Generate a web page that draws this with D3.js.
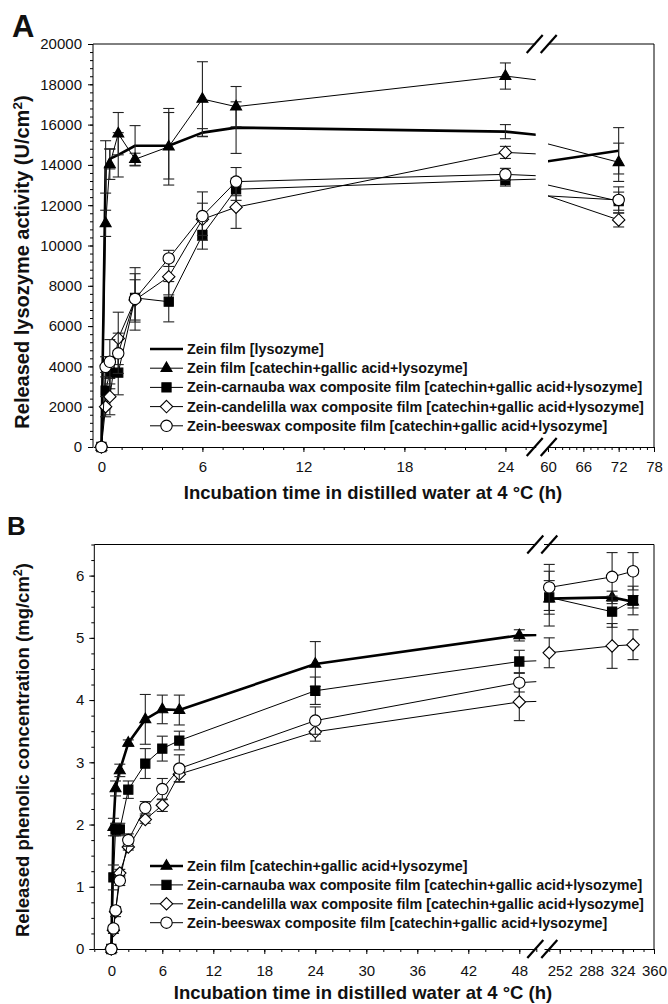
<!DOCTYPE html>
<html><head><meta charset="utf-8">
<script src="https://cdn.jsdelivr.net/npm/d3@7"></script>
<style>
body{margin:0;background:#fff;}
svg text{font-family:"Liberation Sans",Arial,Helvetica,sans-serif;fill:#111;}
</style></head>
<body><svg id="chart" width="668" height="1004"></svg>
<script>
// ---------------- DATA: panel A (lysozyme activity, U/cm2) ----------------
const namesA = [
  "Zein film [lysozyme]",
  "Zein film [catechin+gallic acid+lysozyme]",
  "Zein-carnauba wax composite film [catechin+gallic acid+lysozyme]",
  "Zein-candelilla wax composite film [catechin+gallic acid+lysozyme]",
  "Zein-beeswax composite film [catechin+gallic acid+lysozyme]"
];
const timesA = [0, 0.25, 0.5, 1, 2, 4, 6, 8, 24, 48, 72];
const zeinLysA      = [0, 13900, 14300, 14500, 14950, 14950, 15600, 15850, 15650, 13660, 14700];
const zeinLysA_err  = [0, 1300, 500, 1100, 1000, 1650, 200, 1280, 350, 0, 1150];
const zeinCglA      = [0, 11100, 14030, 15550, 14280, 14900, 17270, 16890, 18410, 15950, 14130];
const zeinCglA_err  = [0, 650, 750, 1050, 300, 1900, 1850, 1000, 650, 0, 950];
const carnaubaA     = [0, 2800, 3690, 3690, 7400, 7210, 10520, 12790, 13250, 13800, 12200];
const carnaubaA_err = [0, 900, 800, 1100, 1200, 1000, 700, 550, 300, 0, 450];
const candelillaA   = [0, 2000, 2500, 5390, 7300, 8450, 11300, 11900, 14620, 13650, 11270];
const candelillaA_err=[0, 500, 900, 1300, 1000, 900, 800, 1050, 300, 0, 350];
const beeswaxA      = [0, 3980, 4230, 4650, 7350, 9360, 11460, 13170, 13530, 12660, 12260];
const beeswaxA_err  = [0, 500, 1100, 1000, 1550, 400, 1200, 700, 300, 0, 650];
const yTicksA = [0, 2000, 4000, 6000, 8000, 10000, 12000, 14000, 16000, 18000, 20000];
const xTicksA_left = [0, 6, 12, 18, 24];
const xTicksA_right = [60, 66, 72, 78];

// ---------------- DATA: panel B (phenolic concentration, mg/cm2) ----------------
const namesB = [
  "Zein film [catechin+gallic acid+lysozyme]",
  "Zein-carnauba wax composite film [catechin+gallic acid+lysozyme]",
  "Zein-candelilla wax composite film [catechin+gallic acid+lysozyme]",
  "Zein-beeswax composite film [catechin+gallic acid+lysozyme]"
];
const timesB = [0, 0.25, 0.5, 1, 2, 4, 6, 8, 24, 48, 240, 312, 336];
const zeinCglB      = [0, 1.96, 2.58, 2.87, 3.31, 3.69, 3.85, 3.84, 4.58, 5.04, 5.63, 5.65, 5.58];
const zeinCglB_err  = [0, 0.14, 0.12, 0.1, 0.05, 0.4, 0.23, 0.24, 0.36, 0.09, 0.44, 0.1, 0.1];
const carnaubaB     = [0, 1.15, 1.92, 1.92, 2.56, 2.98, 3.22, 3.35, 4.15, 4.62, 5.65, 5.42, 5.6];
const carnaubaB_err = [0, 0.2, 0.1, 0.1, 0.14, 0.24, 0.2, 0.15, 0.22, 0.18, 0.27, 0.25, 0.23];
const candelillaB   = [0, 0.3, 0.6, 1.22, 1.64, 2.08, 2.31, 2.81, 3.49, 3.97, 4.76, 4.87, 4.89];
const candelillaB_err=[0, 0.05, 0.08, 0.06, 0.05, 0.06, 0.1, 0.12, 0.15, 0.3, 0.24, 0.36, 0.24];
const beeswaxB      = [0, 0.33, 0.62, 1.1, 1.75, 2.27, 2.57, 2.9, 3.67, 4.28, 5.81, 5.98, 6.07];
const beeswaxB_err  = [0, 0.05, 0.05, 0.08, 0.1, 0.1, 0.17, 0.22, 0.22, 0.15, 0.37, 0.39, 0.3];
const yTicksB = [0, 1, 2, 3, 4, 5, 6];
const xTicksB_left = [0, 6, 12, 18, 24, 30, 36, 42, 48];
const xTicksB_right = [252, 288, 324, 360];

// ---------------- DRAWING ----------------
const svg = d3.select("#chart");
const FONT = '"Liberation Sans",Arial,Helvetica,sans-serif';

const markerPaths = {
  triangle: "M0,-6.3L5.5,3.3L-5.5,3.3Z",
  square: "M-4.6,-4.6H4.6V4.6H-4.6Z",
  diamond: "M0,-6.2L6.2,0L0,6.2L-6.2,0Z"
};
function drawMarker(g, type, cx, cy) {
  if (!type) return;
  if (type === "circle") {
    g.append("circle").attr("cx", cx).attr("cy", cy).attr("r", 5.7)
      .attr("fill", "#fff").attr("stroke", "#000").attr("stroke-width", 1.1);
  } else {
    const filled = type === "triangle" || type === "square";
    g.append("path").attr("d", markerPaths[type])
      .attr("transform", `translate(${cx},${cy})`)
      .attr("fill", filled ? "#000" : "#fff").attr("stroke", "#000").attr("stroke-width", 1.1);
  }
}

function drawPanel(cfg, id) {
  const g = svg.append("g");
  const y = d3.scaleLinear().domain(cfg.yDomain).range([cfg.bottom, cfg.top]);
  const segs = cfg.segments.map(s => ({...s, x: d3.scaleLinear().domain(s.domain).range(s.range)}));

  // clip paths
  const defs = svg.append("defs");
  segs.forEach((s, i) => {
    defs.append("clipPath").attr("id", `clip-${id}-${i}`)
      .append("rect").attr("x", s.range[0]).attr("y", 0)
      .attr("width", s.range[1] - s.range[0]).attr("height", 1004);
  });

  // axes: left
  const yMinor = d3.range(cfg.yDomain[0], cfg.yDomain[1] + 1e-9, cfg.yMinorStep);
  g.append("g").attr("transform", `translate(${cfg.left},0)`)
    .call(d3.axisLeft(y).tickValues(yMinor).tickSize(3).tickSizeOuter(0).tickFormat(""))
    .call(a => a.select(".domain").remove());
  g.append("g").attr("transform", `translate(${cfg.left},0)`)
    .call(d3.axisLeft(y).tickValues(cfg.yTicks).tickSize(5).tickSizeOuter(0).tickPadding(cfg.yPad).tickFormat(d3.format("d")))
    .call(a => a.select(".domain").attr("d", `M0,${cfg.top}V${cfg.bottom}`))
    .attr("font-size", 15).attr("font-family", FONT);

  // axes: bottom, per segment
  segs.forEach(s => {
    const minor = d3.range(s.minorStart, s.domain[1] + 1e-9, s.minorStep).filter(v => v >= s.domain[0] - 1e-9);
    g.append("g").attr("transform", `translate(0,${cfg.bottom})`)
      .call(d3.axisBottom(s.x).tickValues(minor).tickSize(3).tickSizeOuter(0).tickFormat(""))
      .call(a => a.select(".domain").remove());
    g.append("g").attr("transform", `translate(0,${cfg.bottom})`)
      .call(d3.axisBottom(s.x).tickValues(s.major).tickSize(5).tickSizeOuter(0).tickPadding(cfg.xPad).tickFormat(d3.format("d")))
      .attr("font-size", 15).attr("font-family", FONT);
    // top frame line for segment
    g.append("line").attr("x1", s.range[0]).attr("x2", s.range[1])
      .attr("y1", cfg.top).attr("y2", cfg.top).attr("stroke", "#000");
  });
  g.selectAll(".tick line, .domain").attr("stroke", "#000");
  // right frame
  g.append("line").attr("x1", cfg.right).attr("x2", cfg.right)
    .attr("y1", cfg.top).attr("y2", cfg.bottom).attr("stroke", "#000");

  // break marks
  const bx = segs[0].range[1];
  [bx - 1, bx + 13].forEach(cx => {
    [cfg.top, cfg.bottom].forEach(cy => {
      g.append("line").attr("x1", cx - 8).attr("y1", cy + 9).attr("x2", cx + 8).attr("y2", cy - 9)
        .attr("stroke", "#000").attr("stroke-width", 2.2);
    });
  });

  // series
  cfg.series.forEach(ser => {
    const pts = cfg.times.map((t, i) => ({t, v: ser.values[i], e: ser.errors[i]}));
    segs.forEach((s, si) => {
      const line = d3.line().x(d => s.x(d.t)).y(d => y(d.v));
      g.append("path").datum(pts).attr("d", line)
        .attr("clip-path", `url(#clip-${id}-${si})`)
        .attr("fill", "none").attr("stroke", "#000")
        .attr("stroke-width", ser.thick ? 2.6 : 1)
        .attr("stroke-linejoin", "round");
    });
    // error bars
    pts.forEach(p => {
      const s = segs.find(s => p.t >= s.domain[0] && p.t <= s.domain[1]);
      if (!s || !(p.e > 0)) return;
      const cx = s.x(p.t), y1 = y(p.v - p.e), y2 = y(p.v + p.e);
      const eb = g.append("g").attr("stroke", "#222").attr("stroke-width", 1.1);
      eb.append("line").attr("x1", cx).attr("x2", cx).attr("y1", y1).attr("y2", y2);
      eb.append("line").attr("x1", cx - 5.5).attr("x2", cx + 5.5).attr("y1", y1).attr("y2", y1);
      eb.append("line").attr("x1", cx - 5.5).attr("x2", cx + 5.5).attr("y1", y2).attr("y2", y2);
    });
    // markers
    pts.forEach(p => {
      const s = segs.find(s => p.t >= s.domain[0] && p.t <= s.domain[1]);
      if (!s) return;
      drawMarker(g, ser.marker, s.x(p.t), y(p.v));
    });
  });

  // legend
  const lg = g.append("g");
  cfg.series.forEach((ser, i) => {
    const ly = cfg.legend.y0 + i * cfg.legend.dy;
    lg.append("line").attr("x1", cfg.legend.x).attr("x2", cfg.legend.x + 33)
      .attr("y1", ly).attr("y2", ly).attr("stroke", "#000").attr("stroke-width", ser.thick ? 2.6 : 1);
    drawMarker(lg, ser.marker, cfg.legend.x + 16.5, ly);
    lg.append("text").attr("x", cfg.legend.x + 37).attr("y", ly + 5)
      .attr("font-size", 14.3).attr("font-weight", "bold").text(cfg.names[i]);
  });

  // titles
  g.append("text").attr("x", cfg.xTitle.x).attr("y", cfg.xTitle.y).attr("text-anchor", "middle")
    .attr("font-size", 18.5).attr("font-weight", "bold")
    .text("Incubation time in distilled water at 4 \u00B0C (h)");
  const yt = g.append("text").attr("transform", `translate(${cfg.yTitle.x},${cfg.yTitle.y}) rotate(-90)`)
    .attr("text-anchor", "middle").attr("font-size", cfg.yTitle.size).attr("font-weight", "bold");
  yt.append("tspan").text(cfg.yTitle.text);
  yt.append("tspan").attr("font-size", "0.68em").attr("dy", "-0.55em").text("2");
  yt.append("tspan").attr("dy", "0.37em").text(")");
  g.append("text").attr("x", cfg.label.x).attr("y", cfg.label.y)
    .attr("font-size", cfg.label.size).attr("font-weight", "bold").text(cfg.label.text);
}

drawPanel({
  top: 44, bottom: 447, left: 93, right: 654,
  yDomain: [0, 20000], yTicks: yTicksA, yMinorStep: 400, yPad: 6, xPad: 9,
  segments: [
    {domain: [-0.5, 25.8], range: [93, 535.7], major: xTicksA_left, minorStart: 0, minorStep: 1.2},
    {domain: [60, 78], range: [548, 654], major: xTicksA_right, minorStart: 60, minorStep: 1.2}
  ],
  times: timesA,
  names: namesA,
  series: [
    {values: zeinLysA, errors: zeinLysA_err, marker: null, thick: true},
    {values: zeinCglA, errors: zeinCglA_err, marker: "triangle"},
    {values: carnaubaA, errors: carnaubaA_err, marker: "square"},
    {values: candelillaA, errors: candelillaA_err, marker: "diamond"},
    {values: beeswaxA, errors: beeswaxA_err, marker: "circle"}
  ],
  legend: {x: 150, y0: 349, dy: 19.2},
  xTitle: {x: 373, y: 499},
  yTitle: {x: 29, y: 262, size: 20, text: "Released lysozyme activity (U/cm"},
  label: {x: 12, y: 37, size: 31, text: "A"}
}, "a");

drawPanel({
  top: 544.5, bottom: 949, left: 94.3, right: 654,
  yDomain: [0, 6.5], yTicks: yTicksB, yMinorStep: 0.25, yPad: 5, xPad: 11,
  segments: [
    {domain: [-2, 50], range: [94.3, 536.3], major: xTicksB_left, minorStart: -2, minorStep: 2},
    {domain: [234, 360], range: [544, 654], major: xTicksB_right, minorStart: 240, minorStep: 12}
  ],
  times: timesB,
  names: namesB,
  series: [
    {values: zeinCglB, errors: zeinCglB_err, marker: "triangle", thick: true},
    {values: carnaubaB, errors: carnaubaB_err, marker: "square"},
    {values: candelillaB, errors: candelillaB_err, marker: "diamond"},
    {values: beeswaxB, errors: beeswaxB_err, marker: "circle"}
  ],
  legend: {x: 150, y0: 866, dy: 18.9},
  xTitle: {x: 363, y: 999},
  yTitle: {x: 29, y: 750, size: 18.5, text: "Released phenolic concentration (mg/cm"},
  label: {x: 7, y: 535, size: 26, text: "B"}
}, "b");
</script>
</body></html>
